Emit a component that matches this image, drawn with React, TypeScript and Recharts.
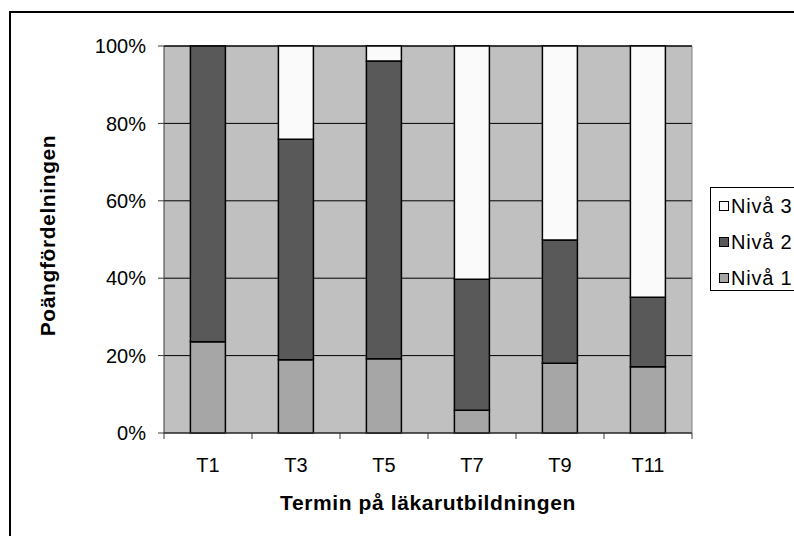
import React from 'react';
import { BarChart, Bar, XAxis, YAxis, CartesianGrid, Legend } from 'recharts';

// Point distribution per term (percent of the term's total)
const terms = ['T1', 'T3', 'T5', 'T7', 'T9', 'T11'];
const niva1 = [23.6, 18.9, 19.2, 5.9, 18.0, 17.1];
const niva2 = [76.4, 57.0, 76.9, 33.8, 31.9, 18.0];
const niva3 = [0, 24.1, 3.9, 60.3, 50.1, 64.9];
const yTicks = [0, 20, 40, 60, 80, 100];
const seriesNames = ['Nivå 1', 'Nivå 2', 'Nivå 3'];
const seriesKeys = ['n1', 'n2', 'n3'];
const seriesColors = ['#a6a6a6', '#595959', '#fafafa'];

const data = terms.map((term, i) => ({ term, n1: niva1[i], n2: niva2[i], n3: niva3[i] }));

const CHART_W = 794;
const CHART_H = 536;
const MARGIN = { top: 46, right: 102, bottom: 0, left: 0 };
const Y_AXIS_W = 164;
const X_AXIS_H = 103;
const X_TICK_GAP = 25;
const BAND = (CHART_W - MARGIN.left - MARGIN.right - Y_AXIS_W) / terms.length;

const FONT = '"Liberation Sans", Arial, sans-serif';
const AXIS_COLOR = '#3a3a3a';
const TITLE_STYLE = { fontFamily: FONT, fontSize: 21, fontWeight: 'bold' as const, fill: '#000', letterSpacing: 0.6 };

// Category tick: label centred on the band, tick marks on the band edges
function TermTick(props: any) {
  const { x, y, payload, index } = props;
  const axisY = y - X_TICK_GAP;
  const half = BAND / 2;
  return (
    <g>
      <line x1={x - half} x2={x - half} y1={axisY} y2={axisY + 6} stroke={AXIS_COLOR} strokeWidth={1} />
      {index === terms.length - 1 && (
        <line x1={x + half} x2={x + half} y1={axisY} y2={axisY + 6} stroke={AXIS_COLOR} strokeWidth={1} />
      )}
      <text x={x} y={y} dy="0.71em" textAnchor="middle" fontSize={20} fontFamily={FONT} fill="#000">
        {payload.value}
      </text>
    </g>
  );
}

// Vertical axis title, rotated and centred a little above the plot middle
function YTitle(props: any) {
  const { viewBox } = props;
  const cx = viewBox.x + 47;
  const cy = viewBox.y + viewBox.height / 2 - 4;
  return (
    <text
      x={cx}
      y={cy}
      dy="0.36em"
      textAnchor="middle"
      transform={`rotate(-90, ${cx}, ${cy})`}
      style={TITLE_STYLE}
    >
      Poängfördelningen
    </text>
  );
}

function LegendBox(props: any) {
  const items = [...(props.payload || [])].reverse();
  return (
    <div
      style={{
        border: '1px solid #000',
        background: '#fff',
        width: 120,
        height: 104,
        boxSizing: 'border-box',
        fontFamily: FONT,
        fontSize: 20,
        letterSpacing: 0.8,
        color: '#000',
      }}
    >
      {items.map((it: any) => (
        <div key={it.value} style={{ height: 36, display: 'flex', alignItems: 'center' }}>
          <span
            style={{
              display: 'inline-block',
              width: 10,
              height: 10,
              marginLeft: 8,
              border: '1px solid #000',
              boxSizing: 'border-box',
              background: it.color,
              flex: 'none',
            }}
          />
          <span style={{ marginLeft: 2, whiteSpace: 'nowrap' }}>{it.value}</span>
        </div>
      ))}
    </div>
  );
}

export default function App() {
  return (
    <div style={{ position: 'absolute', left: 0, top: 0, width: CHART_W, height: CHART_H, overflow: 'hidden', background: '#fff' }}>
      <div
        style={{
          position: 'absolute',
          left: 9,
          top: 11,
          width: 900,
          height: 700,
          border: '2px solid #000',
          boxSizing: 'border-box',
        }}
      />
      <div style={{ position: 'absolute', left: 0, top: 0 }}>
        <BarChart
          width={CHART_W}
          height={CHART_H}
          data={data}
          margin={MARGIN}
          barCategoryGap="30%"
        >
          <CartesianGrid vertical={false} stroke="#000" strokeWidth={1} fill="#c0c0c0" />
          <CartesianGrid
            horizontal={false}
            stroke="#808080"
            verticalCoordinatesGenerator={({ offset }: any) => [offset.left + offset.width]}
          />
          <XAxis
            dataKey="term"
            height={X_AXIS_H}
            tickLine={false}
            tickSize={0}
            tickMargin={X_TICK_GAP}
            tick={<TermTick />}
            interval={0}
            axisLine={{ stroke: AXIS_COLOR, strokeWidth: 1 }}
            label={{
              value: 'Termin på läkarutbildningen',
              position: 'insideBottom',
              offset: 26,
              style: TITLE_STYLE,
            }}
          />
          <YAxis
            width={Y_AXIS_W}
            domain={[0, 100]}
            ticks={yTicks}
            interval={0}
            tickFormatter={(v: number) => `${v}%`}
            tickSize={6}
            tickMargin={12}
            tickLine={{ stroke: AXIS_COLOR }}
            axisLine={{ stroke: AXIS_COLOR, strokeWidth: 1 }}
            tick={{ fontFamily: FONT, fontSize: 20, fill: '#000' }}
            label={<YTitle />}
          />
          <Legend
            layout="vertical"
            align="center"
            verticalAlign="middle"
            wrapperStyle={{ left: 710, top: 187 }}
            content={<LegendBox />}
          />
          {seriesKeys.map((k, i) => (
            <Bar
              key={k}
              dataKey={k}
              name={seriesNames[i]}
              stackId="a"
              fill={seriesColors[i]}
              stroke="#000"
              strokeWidth={1.5}
              isAnimationActive={false}
            />
          ))}
        </BarChart>
      </div>
    </div>
  );
}
